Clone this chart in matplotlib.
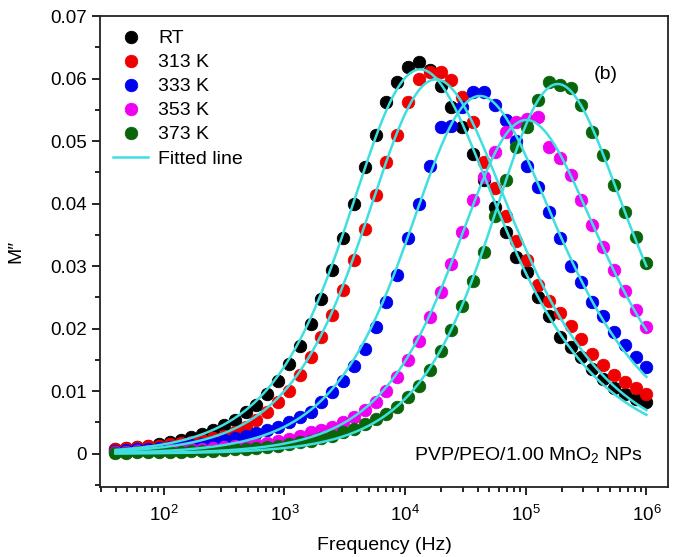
import numpy as np
import matplotlib
matplotlib.use('Agg')
from matplotlib import pyplot as plt
from matplotlib.ticker import MultipleLocator, LogLocator, NullFormatter

plt.rcParams['font.family'] = ['Liberation Sans', 'DejaVu Sans']
plt.rcParams['mathtext.fontset'] = 'custom'
plt.rcParams['mathtext.rm'] = 'Liberation Sans'
plt.rcParams['mathtext.it'] = 'Liberation Sans:italic'

# frecuencias de medida (barrido logaritmico, 50 puntos de 40 Hz a 1 MHz)
freq = np.logspace(1.6, 6.0, 50)

# M'' medido
m_rt = [0.0007, 0.0009, 0.0011, 0.0013, 0.0016, 0.0019, 0.0022, 0.0026, 0.0032, 0.0038,
        0.0046, 0.0054, 0.0066, 0.0078, 0.0096, 0.0116, 0.0143, 0.0172, 0.0207, 0.0247,
        0.0294, 0.0345, 0.0400, 0.0458, 0.0510, 0.0562, 0.0595, 0.0618, 0.0626, 0.0614,
        0.0588, 0.0555, 0.0523, 0.0480, 0.0438, 0.0395, 0.0355, 0.0315, 0.0290, 0.0250,
        0.0220, 0.0186, 0.0170, 0.0154, 0.0135, 0.0120, 0.0105, 0.0095, 0.0088, 0.0082]
m_313 = [0.0008, 0.0009, 0.0010, 0.0012, 0.0013, 0.0015, 0.0017, 0.0019, 0.0022, 0.0025,
         0.0029, 0.0035, 0.0043, 0.0054, 0.0066, 0.0082, 0.0100, 0.0126, 0.0154, 0.0186,
         0.0222, 0.0262, 0.0310, 0.0360, 0.0414, 0.0467, 0.0510, 0.0563, 0.0600, 0.0610,
         0.0610, 0.0598, 0.0570, 0.0530, 0.0466, 0.0425, 0.0380, 0.0340, 0.0310, 0.0270,
         0.0245, 0.0225, 0.0205, 0.0183, 0.0160, 0.0142, 0.0126, 0.0115, 0.0105, 0.0095]
m_333 = [0.0005, 0.0006, 0.0007, 0.0008, 0.0009, 0.0010, 0.0012, 0.0014, 0.0016, 0.0019,
         0.0022, 0.0025, 0.0029, 0.0033, 0.0038, 0.0043, 0.0051, 0.0059, 0.0067, 0.0082,
         0.0098, 0.0117, 0.0140, 0.0168, 0.0202, 0.0242, 0.0286, 0.0345, 0.0400, 0.0460,
         0.0523, 0.0525, 0.0555, 0.0578, 0.0578, 0.0558, 0.0534, 0.0500, 0.0460, 0.0427,
         0.0386, 0.0345, 0.0300, 0.0275, 0.0243, 0.0220, 0.0195, 0.0174, 0.0155, 0.0138]
m_353 = [0.0003, 0.0003, 0.0004, 0.0004, 0.0005, 0.0006, 0.0006, 0.0007, 0.0008, 0.0009,
         0.0010, 0.0012, 0.0013, 0.0015, 0.0017, 0.0020, 0.0023, 0.0028, 0.0034, 0.0038,
         0.0043, 0.0051, 0.0059, 0.0070, 0.0083, 0.0100, 0.0122, 0.0150, 0.0180, 0.0218,
         0.0258, 0.0304, 0.0355, 0.0406, 0.0443, 0.0483, 0.0515, 0.0530, 0.0535, 0.0538,
         0.0490, 0.0473, 0.0446, 0.0406, 0.0366, 0.0330, 0.0294, 0.0260, 0.0230, 0.0202]
m_373 = [0.0001, 0.0001, 0.0002, 0.0002, 0.0002, 0.0003, 0.0003, 0.0004, 0.0004, 0.0005,
         0.0006, 0.0007, 0.0008, 0.0009, 0.0011, 0.0013, 0.0015, 0.0018, 0.0021, 0.0025,
         0.0029, 0.0034, 0.0040, 0.0047, 0.0055, 0.0063, 0.0074, 0.0090, 0.0108, 0.0134,
         0.0165, 0.0198, 0.0237, 0.0277, 0.0323, 0.0380, 0.0438, 0.0490, 0.0523, 0.0566,
         0.0595, 0.0590, 0.0585, 0.0558, 0.0515, 0.0478, 0.0430, 0.0387, 0.0347, 0.0305]

labels = ["RT", "313 K", "333 K", "353 K", "373 K"]
colors = ["#000000", "#f00000", "#0000f0", "#f000f0", "#0a640a"]
series = [m_rt, m_313, m_333, m_353, m_373]


def bergman(f, fmax, b):
    x = f / fmax
    return 1.0 / ((1 - b) + b / (1 + b) * (b / x + x**b))


def fit_bergman(f, m):
    # busqueda en rejilla de fmax y beta, Mmax por minimos cuadrados
    m = np.asarray(m)
    lfm = np.arange(3.0, 6.0, 0.005)[:, None, None]
    b = np.arange(0.3, 1.001, 0.005)[None, :, None]
    g = bergman(f[None, None, :], 10**lfm, b)
    a = (g * m).sum(-1) / (g * g).sum(-1)
    r = ((m - a[..., None] * g)**2).sum(-1)
    i, j = np.unravel_index(np.argmin(r), r.shape)
    return a[i, j], 10**lfm[i, 0, 0], b[0, j, 0]


fig = plt.figure(figsize=(6.79, 5.57), dpi=100)
ax = fig.add_axes([0.147, 0.126, 0.837, 0.845])

# puntos experimentales
for m, c, lab in zip(series, colors, labels):
    ax.plot(freq, m, 'o', color=c, markersize=9, markeredgewidth=0.6,
            markeredgecolor=c, label=lab, zorder=2)

# lineas de ajuste
x_fit = np.logspace(1.6, 6.0, 400)
for i, m in enumerate(series):
    mmax, fmax, b = fit_bergman(freq, m)
    ax.plot(x_fit, mmax * bergman(x_fit, fmax, b), '-', color='#3fdfe0', lw=1.8, zorder=3,
            label='Fitted line' if i == 0 else None)

ax.set_xscale('log')
ax.set_xlim(10**1.47, 10**6.18)
ax.set_ylim(-0.0053, 0.07)
ax.yaxis.set_minor_locator(MultipleLocator(0.005))
ax.set_yticks([0, 0.01, 0.02, 0.03, 0.04, 0.05, 0.06, 0.07])
ax.set_yticklabels(['0', '0.01', '0.02', '0.03', '0.04', '0.05', '0.06', '0.07'])
ax.xaxis.set_major_locator(LogLocator(base=10))
ax.xaxis.set_minor_locator(LogLocator(base=10, subs=np.arange(2, 10)))
ax.xaxis.set_minor_formatter(NullFormatter())

ax.tick_params(which='both', direction='out', top=False, right=False, labelsize=13.5, width=1.2)
ax.tick_params(axis='x', which='major', pad=7)
ax.tick_params(which='major', length=6)
ax.tick_params(which='minor', length=3.5)
for s in ax.spines.values():
    s.set_linewidth(1.3)
    s.set_color('#222222')

ax.set_xlabel('Frequency (Hz)', fontsize=14, labelpad=9)
ax.set_ylabel('M\u2033', fontsize=14, labelpad=18)

h, l = ax.get_legend_handles_labels()
ax.legend(h, l, loc='upper left', bbox_to_anchor=(0.0, 1.0), frameon=False,
          fontsize=14, labelspacing=0.33, handlelength=1.8, handletextpad=0.5,
          borderaxespad=0.3, markerscale=1.0)

ax.text(0.89, 0.875, '(b)', transform=ax.transAxes, fontsize=14, ha='center', va='center')
ax.text(0.955, 0.068, 'PVP/PEO/1.00 MnO$_2$ NPs', transform=ax.transAxes, fontsize=14,
        ha='right', va='center')

plt.savefig('out.png', dpi=100)
